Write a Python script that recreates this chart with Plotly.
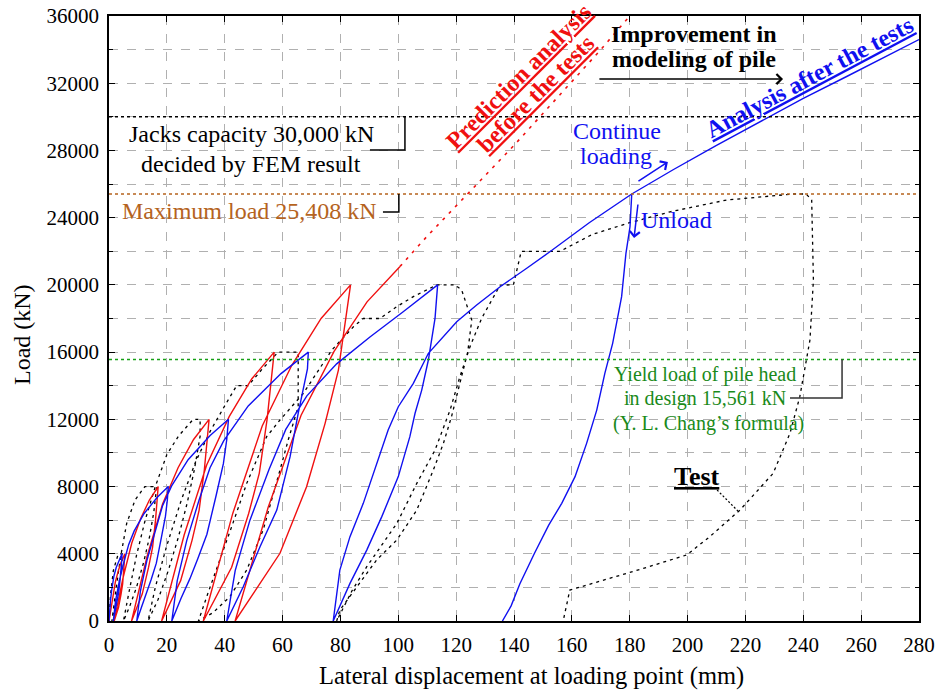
import plotly.graph_objects as go

# ---------------- data ----------------
X_TICKS = list(range(0, 281, 20))
Y_TICKS = list(range(0, 36001, 4000))

JACKS_CAPACITY = 30000
MAX_LOAD = 25408
YIELD_LOAD = 15561

# Prediction analysis before the tests (red, cyclic part)
PRED_X = [0, 1.1, 2.2, 3.3, 4.4, 5.5,
          5.13, 4.72, 4.17, 3.28, 1.8,
          4.84, 7.88, 10.92, 13.96, 17.0,
          16.08, 15.07, 13.69, 11.48, 7.8,
          13.16, 18.52, 23.88, 29.24, 34.6,
          32.96, 31.16, 28.7, 24.76, 18.2,
          25.98, 33.76, 41.54, 49.32, 57.1,
          54.65, 51.96, 48.28, 42.4, 32.6,
          42.78, 52.96, 63.14, 73.32, 83.5,
          79.3, 74.7, 68.3, 59.1, 43.6,
          55.0, 66.4, 77.8, 89.2, 100.6]
PRED_Y = [0, 1280, 2320, 3040, 3600, 4000,
          3000, 2200, 1600, 800, 0,
          2560, 4640, 6080, 7200, 8000,
          6000, 4400, 3200, 1600, 0,
          3840, 6960, 9120, 10800, 12000,
          9000, 6600, 4800, 2400, 0,
          5120, 9280, 12160, 14400, 16000,
          12000, 8800, 6400, 3200, 0,
          6400, 11600, 15200, 18000, 20000,
          14930, 11760, 7990, 4030, 0,
          6750, 12240, 16040, 18990, 21100]

# Prediction analysis, monotonic continuation (red dotted)
PRED_EXT_X = [100.6, 110, 120, 130, 140, 150, 160, 170, 180]
PRED_EXT_Y = [21100, 22900, 24700, 26500, 28300, 30200, 32100, 34000, 36000]

# Analysis after the tests (blue, cyclic part up to maximum load)
POST_X = [0, 0.18, 0.5, 0.9, 1.26, 1.71, 2.52, 3.6, 4.5,
          4.41, 4.23, 3.84, 3.36, 2.88, 2.46, 1.98, 1.5,
          2.26, 3.59, 5.3, 6.82, 8.72, 12.14, 16.7, 20.5,
          20.17, 19.52, 18.1, 16.36, 14.61, 13.09, 11.34, 9.6,
          10.87, 13.09, 15.94, 18.48, 21.65, 27.35, 34.96, 41.3,
          40.71, 39.54, 36.99, 33.85, 30.72, 27.97, 24.84, 21.7,
          23.59, 26.89, 31.14, 34.92, 39.64, 48.13, 59.46, 68.9,
          68.6, 65.4, 62.6, 58.0, 52.2, 46.4, 40.7,
          43.62, 48.72, 55.28, 61.11, 68.4, 78.7, 90.2, 101.7, 113.6,
          112.7, 110.4, 108.1, 105.8, 104.0, 100.0, 94.3, 89.1, 83.3, 77.5,
          79.8, 83.3, 87.9, 92.5, 96.5, 100.0, 105.2, 110.4, 115.6, 120.2,
          127.1, 135.2, 144.4, 152.4, 166.0, 180.7]
POST_Y = [0, 600, 1200, 1800, 2280, 2680, 3200, 3680, 4000,
          3600, 3120, 2480, 1720, 1240, 840, 440, 0,
          1200, 2400, 3600, 4560, 5360, 6400, 7360, 8000,
          7200, 6240, 4960, 3440, 2480, 1680, 880, 0,
          1800, 3600, 5400, 6840, 8040, 9600, 11040, 12000,
          10800, 9360, 7440, 5160, 3720, 2520, 1320, 0,
          2400, 4800, 7200, 9120, 10720, 12800, 14720, 16000,
          15000, 12360, 9780, 6600, 4420, 2040, 0,
          3000, 6000, 9000, 11400, 13400, 15300, 16900, 18400, 20000,
          18010, 15530, 13740, 12360, 10970, 8590, 6210, 4220, 2240, 0,
          3030, 5020, 7000, 9380, 11360, 12750, 14140, 15930, 16920, 17810,
          18800, 19890, 20990, 21970, 23700, 25408]

# Analysis after the tests: continue loading branch
CONT_X = [180.7, 195, 210, 225, 240, 255, 270, 280]
CONT_Y = [25408, 26850, 28300, 29700, 31100, 32400, 33700, 34600]

# Analysis after the tests: unload branch
UNLD_X = [180.7, 180.1, 178.7, 177.8, 177.2, 176.1, 174.1, 171.4, 168.6,
          165.1, 161.1, 156.5, 152.0, 147.0, 142.0, 139.0, 136.0]
UNLD_Y = [25408, 23460, 21880, 20490, 19300, 18310, 16520, 14740, 12550,
          10570, 8590, 7000, 5700, 4000, 2200, 900, 0]

# Test (black dashed)
TEST_X = [0, 0.5, 1.5, 3.2, 4.9, 4.2, 3.2, 2.0, 1.0,
          2.5, 4.0, 6.1, 9.0, 12.4, 16.5, 15.5, 14.0, 12.0, 9.5, 7.0, 5.0,
          7.0, 9.5, 12.5, 16.0, 20.0, 24.0, 29.1, 31.5, 31.5, 29.5, 27.0, 24.0, 20.5, 17.0, 13.5,
          16.0, 20.0, 25.0, 30.0, 35.0, 40.0, 44.1, 48.1, 53.0, 58.5, 65.4, 65.4, 62.0, 59.1,
          53.3, 47.6, 41.8, 36.0, 30.9,
          34.5, 38.4, 43.0, 47.6, 54.5, 59.1, 67.2, 77.0, 84.5, 87.9, 93.7, 99.4, 105.2, 113.3,
          119.6, 121.9, 124.8, 125.4, 124.0, 121.3, 118.4, 115.6, 112.1, 106.4, 99.5, 92.5,
          85.6, 79.8, 78.7,
          84.0, 89.1, 99.5, 106.4, 112.7, 117.9, 121.3, 124.8, 128.8, 135.2, 139.8, 142.5,
          155.9, 167.0, 180.0, 194.0, 213.5, 236.5, 241.0, 242.9, 243.5, 242.3, 238.8, 235.4,
          229.6, 218.1, 207.7, 199.7, 184.7, 159.3, 157.0]
TEST_Y = [0, 1500, 3000, 4000, 4000, 3000, 2000, 900, 0,
          2000, 3800, 5800, 7200, 8000, 8000, 6500, 5000, 3500, 2000, 800, 0,
          1800, 3900, 6000, 8000, 9900, 11000, 12000, 12000, 11000, 9000, 7000, 5000, 3000, 1300, 0,
          2000, 4500, 7200, 9500, 11300, 12800, 14000, 14000, 15000, 16000, 16000, 12750, 10800, 8980,
          5420, 3030, 1450, 500, 0,
          1800, 3630, 5900, 8190, 10970, 11960, 13550, 16120, 17510, 18000, 18000, 18700, 19300, 20000,
          20000, 19700, 18310, 17910, 16000, 14140, 12160, 10570, 8980, 6600, 4820, 3630,
          2040, 650, 0,
          1800, 3230, 5810, 8190, 10170, 12550, 14540, 16320, 18010, 19990, 20000, 22000,
          22000, 23000, 23700, 24350, 25050, 25408, 25408, 25050, 20290, 16720, 13350, 11170,
          8790, 6600, 5020, 3930, 3130, 1840, 0]

# ---------------- styling ----------------
FONT = "Liberation Serif"
RED = "#f01010"
BLUE = "#1010f0"
BROWN = "#b5631e"
GREEN_LINE = "#16a016"
GREEN_TEXT = "#1a8a1a"

fig = go.Figure()
fig.add_trace(go.Scatter(x=TEST_X, y=TEST_Y, mode="lines",
                         line=dict(color="black", width=1.3, dash="3px,4px"),
                         showlegend=False, hoverinfo="skip"))
fig.add_trace(go.Scatter(x=PRED_X, y=PRED_Y, mode="lines",
                         line=dict(color=RED, width=1.4), showlegend=False))
fig.add_trace(go.Scatter(x=PRED_EXT_X, y=PRED_EXT_Y, mode="lines",
                         line=dict(color=RED, width=1.6, dash="3px,6px"), showlegend=False))
fig.add_trace(go.Scatter(x=POST_X, y=POST_Y, mode="lines",
                         line=dict(color=BLUE, width=1.4), showlegend=False))
fig.add_trace(go.Scatter(x=CONT_X, y=CONT_Y, mode="lines",
                         line=dict(color=BLUE, width=1.4), showlegend=False))
fig.add_trace(go.Scatter(x=UNLD_X, y=UNLD_Y, mode="lines",
                         line=dict(color=BLUE, width=1.4), showlegend=False))

# horizontal reference lines
for val, col, dash in [(JACKS_CAPACITY, "black", "dot"),
                       (MAX_LOAD, BROWN, "dot"),
                       (YIELD_LOAD, GREEN_LINE, "dot")]:
    fig.add_shape(type="line", xref="paper", x0=0, x1=1, yref="y", y0=val, y1=val,
                  line=dict(color=col, width=1.5, dash=dash))

# bracket connectors
def bracket(x0, x1, y0, y1, color="black"):
    fig.add_shape(type="path", xref="x", yref="y",
                  path=f"M{x0},{y0} L{x1},{y0} L{x1},{y1}",
                  line=dict(color=color, width=1.5))

bracket(90.2, 102.3, 28025, JACKS_CAPACITY)
bracket(94.7, 100.2, 24335, MAX_LOAD)
bracket(235.4, 253.4, 13270, YIELD_LOAD, color="#333333")
fig.add_shape(type="line", xref="x", yref="y", x0=210.2, y0=7795, x1=217.4, y1=6545,
              line=dict(color="black", width=1.2, dash="2px,2px"))

def text(x, y, s, size=24, color="black", angle=0):
    fig.add_annotation(x=x, y=y, xref="x", yref="y", text=s, showarrow=False,
                       font=dict(family=FONT, size=size, color=color),
                       textangle=angle, xanchor="center", yanchor="middle")

def arrow(x0, y0, x1, y1, color):
    fig.add_annotation(x=x1, y=y1, ax=x0, ay=y0, xref="x", yref="y", axref="x", ayref="y",
                       text="", showarrow=True, arrowhead=4, arrowsize=1.3,
                       arrowwidth=1.5, arrowcolor=color, standoff=0, startstandoff=0)

text(49.1, 28977, "Jacks capacity 30,000 kN")
text(49.1, 27192, "decided by FEM result")
text(48.4, 24395, "Maximum load 25,408 kN", color=BROWN)
text(202.2, 34950, "<b>Improvement in</b>")
text(202.2, 33450, "<b>modeling of pile</b>")
arrow(169.0, 32249, 233.0, 32249, "black")
text(175.6, 29155, "Continue", color=BLUE)
text(175.3, 27668, "loading", color=BLUE)
arrow(182.5, 26120, 193.2, 27310, BLUE)
text(196.3, 23860, "Unload", color=BLUE)
arrow(182.9, 24871, 181.5, 22789, BLUE)
text(206.0, 14697, "Yield load of pile head", size=20, color=GREEN_TEXT)
text(206.0, 13269, "in design 15,561 kN", size=20, color=GREEN_TEXT)
text(207.1, 11781, "(Y. L. Chang\u2019s formula)", size=20, color=GREEN_TEXT)
text(203.3, 8628, "<b><u>Test</u></b>", size=26)
text(141.8, 32407, "<b><u>Prediction analysis</u></b>", color=RED, angle=-45)
text(147.5, 31336, "<b><u>before the tests</u></b>", color=RED, angle=-45)
text(242.3, 32368, "<b><u>Analysis after the tests</u></b>", color=BLUE, angle=-28)

# axis titles placed as paper annotations to match the reference position
fig.add_annotation(x=0.521, y=-0.0909, xref="paper", yref="paper", showarrow=False,
                   text="Lateral displacement at loading point (mm)",
                   font=dict(family=FONT, size=24.5, color="black"),
                   xanchor="center", yanchor="middle")
fig.add_annotation(x=-0.1074, y=0.4727, xref="paper", yref="paper", showarrow=False,
                   text="Load (kN)", textangle=-90,
                   font=dict(family=FONT, size=24, color="black"),
                   xanchor="center", yanchor="middle")

axis_common = dict(showline=True, linecolor="black", linewidth=1.5, mirror="allticks",
                   ticks="inside", ticklen=6, tickcolor="black", zeroline=False,
                   showgrid=True, gridcolor="#b0b0b0", gridwidth=1, griddash="dash",
                   automargin=False,
                   tickfont=dict(family=FONT, size=21, color="black"))

fig.update_xaxes(range=[0, 280], tickvals=X_TICKS, ticktext=[str(v) for v in X_TICKS],
                 ticklabelstandoff=4, **axis_common)
fig.update_yaxes(range=[0, 36000], tickvals=Y_TICKS, ticktext=[str(v) for v in Y_TICKS],
                 ticklabelstandoff=4,
                 minor=dict(dtick=2000, ticks="inside", ticklen=4, tickcolor="black",
                            showgrid=True, gridcolor="#b0b0b0", griddash="dash"),
                 **axis_common)

fig.update_layout(width=940, height=691, margin=dict(l=109, r=21, t=16, b=70),
                  plot_bgcolor="white", paper_bgcolor="white",
                  font=dict(family=FONT, color="black"), showlegend=False)

fig.write_html("out.html")
